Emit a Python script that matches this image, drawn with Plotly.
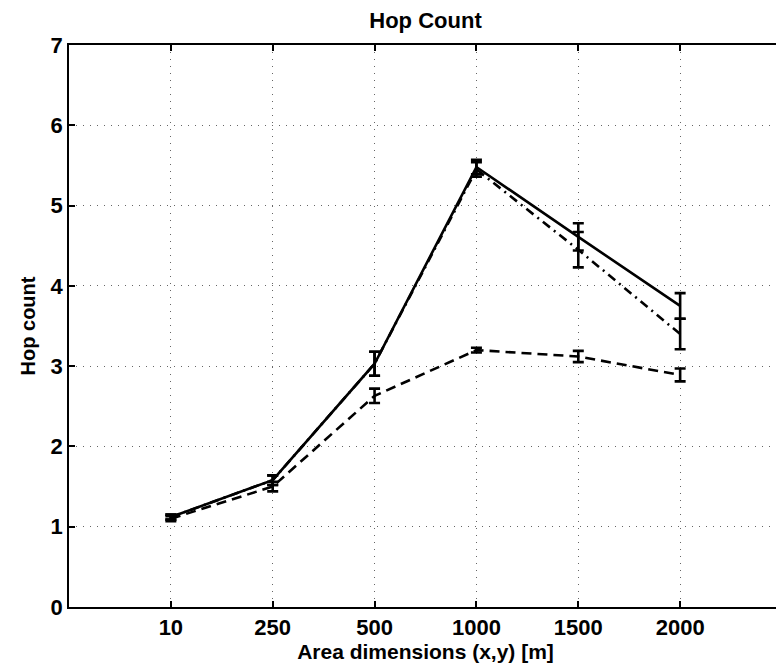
import plotly.graph_objects as go

categories = ["10", "250", "500", "1000", "1500", "2000"]
positions = [1, 2, 3, 4, 5, 6]

solid_vals = [1.12, 1.58, 3.03, 5.48, 4.61, 3.75]
solid_err = [0.03, 0.06, 0.15, 0.09, 0.17, 0.16]

dashed_vals = [1.10, 1.50, 2.63, 3.20, 3.12, 2.89]
dashed_err = [0.03, 0.06, 0.09, 0.03, 0.07, 0.08]

dashdot_vals = [1.12, 1.58, 3.03, 5.45, 4.45, 3.40]
dashdot_err = [0.03, 0.06, 0.15, 0.09, 0.22, 0.19]

fig = go.Figure()

def add(vals, errs, dash):
    fig.add_trace(go.Scatter(
        x=positions, y=vals, mode="lines",
        line=dict(color="black", width=2.6, dash=dash),
        error_y=dict(type="data", array=errs, visible=True,
                     color="black", thickness=2.6, width=5.5),
        showlegend=False,
    ))

add(dashdot_vals, dashdot_err, "9px,5px,2px,5px")
add(dashed_vals, dashed_err, "10px,6px")
add(solid_vals, solid_err, "solid")

font = "Liberation Sans, Arial, sans-serif"

# page body has an 8px default margin; offsets compensate for it
W, H = 784, 668
OFF = 8
fig.update_layout(
    width=W, height=H,
    margin=dict(l=69 - OFF, r=W - (782 - OFF), t=45 - OFF, b=H - (607 - OFF), autoexpand=False),
    paper_bgcolor="white", plot_bgcolor="white",
    title=dict(text="<b>Hop Count</b>", x=(425.5 - OFF) / W, xref="container", xanchor="center",
               y=1 - (20 - OFF) / H, yref="container", yanchor="middle",
               font=dict(family=font, size=22, color="black")),
    font=dict(family=font, color="black"),
)

grid = dict(showgrid=True, gridcolor="#666666", griddash="1px,6px", gridwidth=1)

fig.update_xaxes(
    range=[0, 7], tickmode="array", tickvals=positions,
    ticktext=["<b>%s</b>" % c for c in categories],
    tickfont=dict(family=font, size=22, color="black"),
    ticks="inside", ticklen=6, tickwidth=1.5, tickcolor="black",
    showline=True, linecolor="black", linewidth=1.5, mirror="ticks",
    zeroline=False, automargin=False,
    title=dict(text="<b>Area dimensions (x,y) [m]</b>", standoff=1,
               font=dict(family=font, size=21, color="black")),
    **grid,
)
fig.update_yaxes(
    range=[0, 7], tickmode="array", tickvals=[0, 1, 2, 3, 4, 5, 6, 7],
    ticktext=["<b>%d</b>" % v for v in [0, 1, 2, 3, 4, 5, 6, 7]],
    tickfont=dict(family=font, size=22, color="black"),
    ticks="inside", ticklen=6, tickwidth=1.5, tickcolor="black",
    showline=True, linecolor="black", linewidth=1.5, mirror="ticks",
    zeroline=False, automargin=False,
    title=dict(text="<b>Hop count</b>", standoff=10,
               font=dict(family=font, size=20, color="black")),
    **grid,
)

fig.write_html("out.html")
